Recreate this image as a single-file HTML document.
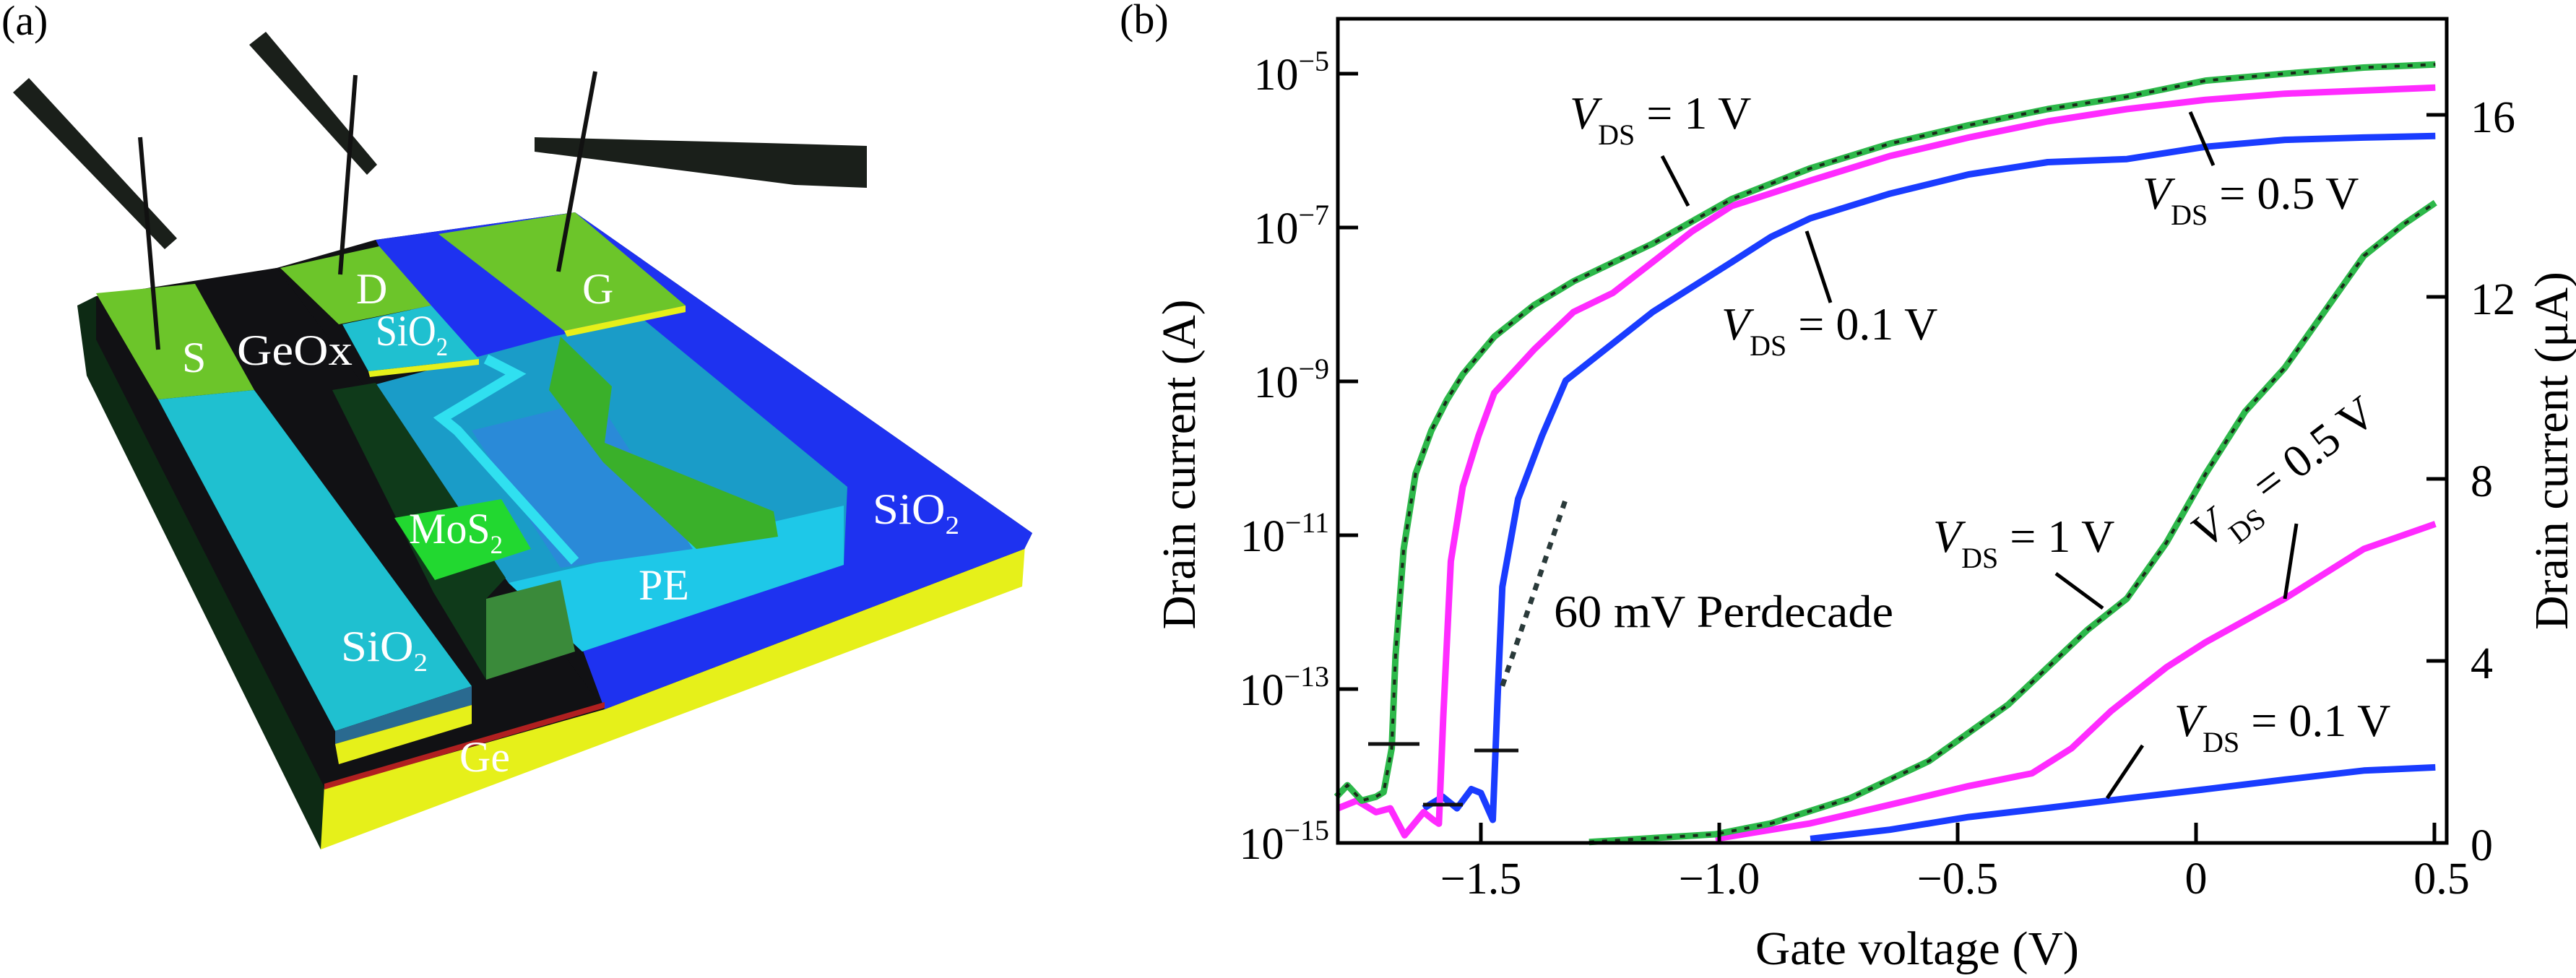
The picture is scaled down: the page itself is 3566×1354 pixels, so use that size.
<!DOCTYPE html>
<html><head><meta charset="utf-8"><style>
html,body{margin:0;padding:0;background:#fff;}
svg{display:block;font-family:"Liberation Serif",serif;}
</style></head><body>
<svg id="fig" width="3566" height="1354" viewBox="0 0 3566 1354" xmlns="http://www.w3.org/2000/svg">
<!-- Panel (a) device schematic -->
<g id="panelA">
  <text x="2" y="48" font-size="58">(a)</text>
  <polygon points="439,1070 1420,740 1415,812 444,1176" fill="#e6f01a"/>
  <polygon points="107,423 383,371 520,332 796,294 1429,738 1418,760 837,982 449,1092" fill="#111114"/>
  <polygon points="107,423 133,410 464,1070 449,1088 444,1176 120,520" fill="#0d2a14"/>
  <polygon points="520,332 796,294 1429,738 1418,760 837,982 806,898" fill="#1e32f0"/>
  <polygon points="133,410 383,371 832,976 449,1090 133,470" fill="#111114"/>
  <polygon points="449,1085 837,972 837,980 449,1093" fill="#b02020"/>
  <polygon points="133,406 270,393 352,540 219,553" fill="#6cc52a"/>
  <polygon points="219,553 352,540 653,950 464,1012" fill="#1fc0d0"/>
  <polygon points="464,1012 653,950 653,976 464,1030" fill="#2a6a90"/>
  <polygon points="464,1030 653,976 653,1002 469,1058" fill="#e6f01a"/>
  <polygon points="510,535 765,466 888,440 1173,674 1168,782 806,902 704,807" fill="#1a9cc8"/>
  <polygon points="704,807 1168,700 1168,782 806,902" fill="#1ec8e8"/>
  <polygon points="653,596 827,553 959,760 776,786" fill="#2a8ad8"/>
  <polygon points="776,466 847,535 837,613 1071,708 1077,743 964,760 835,640 760,540" fill="#3ab02a"/>
  <polygon points="460,540 520,530 700,800 673,829 673,941 600,820" fill="#0f3a1a"/>
  <polygon points="673,829 776,803 796,902 673,941" fill="#3a8a3a"/>
  <polygon points="388,371 525,341 597,423 469,449" fill="#6cc52a"/>
  <polygon points="474,449 597,423 663,497 510,514" fill="#1fc0d0"/>
  <polygon points="510,514 663,497 663,505 512,522" fill="#e6f01a"/>
  <polygon points="607,324 796,294 949,423 781,458" fill="#6cc52a"/>
  <polygon points="781,458 949,423 949,432 785,466" fill="#e6f01a"/>
  <polyline points="673,497 714,518 612,579 633,596 796,777" fill="none" stroke="#30e0f0" stroke-width="14"/>
  <polygon points="546,717 694,691 735,760 602,803" fill="#22d830"/>
  <polygon points="18,128 40,108 245,330 228,345" fill="#1a1f1a"/>
  <line x1="194" y1="190" x2="219" y2="484" stroke="#111" stroke-width="6"/>
  <polygon points="345,62 368,44 522,228 508,242" fill="#1a1f1a"/>
  <line x1="492" y1="104" x2="471" y2="380" stroke="#111" stroke-width="6"/>
  <polygon points="740,190 1060,198 1200,202 1200,260 1100,256 740,210" fill="#1a1f1a"/>
  <line x1="824" y1="99" x2="773" y2="376" stroke="#111" stroke-width="6"/>
  <g fill="#fff" font-size="60">
    <text x="252" y="515">S</text>
    <text x="328" y="505" textLength="160" lengthAdjust="spacingAndGlyphs">GeOx</text>
    <text x="493" y="420">D</text>
    <text x="520" y="478" textLength="100" lengthAdjust="spacingAndGlyphs">SiO<tspan font-size="36" dy="14">2</tspan></text>
    <text x="806" y="420">G</text>
    <text x="566" y="752" textLength="130" lengthAdjust="spacingAndGlyphs">MoS<tspan font-size="36" dy="14">2</tspan></text>
    <text x="884" y="830">PE</text>
    <text x="1208" y="725" textLength="120" lengthAdjust="spacingAndGlyphs">SiO<tspan font-size="36" dy="14">2</tspan></text>
    <text x="472" y="915" textLength="120" lengthAdjust="spacingAndGlyphs">SiO<tspan font-size="36" dy="14">2</tspan></text>
    <text x="636" y="1068">Ge</text>
  </g>
</g>
<!-- Panel (b) -->
<g id="panelB">
  <text x="1550" y="46" font-size="58">(b)</text>
  <g id="curves"></g>
  <g id="axes"></g>
  <g id="annot"></g>
</g>
</svg>
<script>
const NS="http://www.w3.org/2000/svg";
const xTicks=[-1.5,-1.0,-0.5,0,0.5];
const xTickLabels=["\u22121.5","\u22121.0","\u22120.5","0","0.5"];
const logTicks=[-5,-7,-9,-11,-13,-15];
const linTicks=[0,4,8,12,16];
const logV1V=[-1.803,-1.78,-1.75,-1.72,-1.704,-1.687,-1.679,-1.662,-1.637,-1.604,-1.571,-1.538,-1.472,-1.389,-1.306,-1.140,-0.974,-0.809,-0.642,-0.477,-0.311,-0.145,0.020,0.186,0.352,0.502];
const logI1V=[-14.40,-14.25,-14.45,-14.40,-14.34,-13.77,-12.56,-11.18,-10.20,-9.64,-9.24,-8.91,-8.42,-8.01,-7.70,-7.21,-6.63,-6.23,-5.91,-5.67,-5.46,-5.30,-5.09,-5.00,-4.92,-4.88];
const logV05V=[-1.80,-1.76,-1.72,-1.69,-1.66,-1.62,-1.60,-1.588,-1.579,-1.563,-1.538,-1.505,-1.472,-1.389,-1.306,-1.223,-1.140,-1.057,-0.974,-0.809,-0.642,-0.477,-0.311,-0.145,0.020,0.186,0.352,0.502];
const logI05V=[-14.55,-14.45,-14.60,-14.55,-14.90,-14.60,-14.70,-14.75,-13.37,-11.34,-10.37,-9.71,-9.15,-8.59,-8.10,-7.85,-7.45,-7.05,-6.72,-6.39,-6.07,-5.83,-5.62,-5.46,-5.34,-5.26,-5.22,-5.18];
const logV01V=[-1.62,-1.58,-1.55,-1.52,-1.50,-1.475,-1.464,-1.455,-1.422,-1.372,-1.322,-1.273,-1.140,-0.974,-0.891,-0.809,-0.642,-0.477,-0.311,-0.145,0.020,0.186,0.352,0.502];
const logI01V=[-14.55,-14.40,-14.55,-14.30,-14.35,-14.70,-12.96,-11.67,-10.53,-9.71,-8.99,-8.75,-8.10,-7.45,-7.12,-6.88,-6.56,-6.31,-6.15,-6.11,-5.95,-5.86,-5.83,-5.81];
const linV1V=[-1.273,-1.008,-0.891,-0.726,-0.560,-0.394,-0.228,-0.145,-0.062,0.020,0.103,0.186,0.269,0.352,0.435,0.502];
const linI1V=[0.02,0.19,0.43,0.98,1.80,3.04,4.68,5.37,6.60,8.11,9.48,10.44,11.67,12.90,13.59,14.07];
const linV05V=[-1.008,-0.809,-0.642,-0.477,-0.344,-0.261,-0.178,-0.062,0.020,0.186,0.352,0.502];
const linI05V=[0.09,0.43,0.84,1.25,1.53,2.08,2.90,3.86,4.41,5.37,6.46,7.01];
const linV01V=[-0.809,-0.642,-0.477,-0.311,-0.145,0.020,0.186,0.352,0.502];
const linI01V=[0.09,0.29,0.57,0.77,0.98,1.18,1.39,1.59,1.66];
const slopeV=[-1.455,-1.322];
const slopeI=[-12.96,-10.53];
const L=1852,R=3387,T=26,B=1167;
const xs=v=>3040+v*660;
const yLog=e=>B-(e+15)*106.5;
const yLin=i=>B-i*63;
function el(tag,attrs,parent){const e=document.createElementNS(NS,tag);for(const k in attrs)e.setAttribute(k,attrs[k]);parent.appendChild(e);return e;}
const curves=document.getElementById('curves');
function path(vs,is,yf){return vs.map((v,k)=>(k?'L':'M')+xs(v).toFixed(1)+','+yf(is[k]).toFixed(1)).join(' ');}
function drawCurve(vs,is,yf,color,name,dotted){
  const p=el('path',{d:path(vs,is,yf),fill:'none',stroke:color,'stroke-width':9,'stroke-linejoin':'round'},curves);
  
  
  if(dotted){const q=el('path',{d:path(vs,is,yf),fill:'none',stroke:'#1a2a1a','stroke-width':4,'stroke-dasharray':'7 11'},curves);
    
    }
}
drawCurve(linV01V,linI01V,yLin,'#1a3cff','linear-curve-vds-0.1v');
drawCurve(linV05V,linI05V,yLin,'#ff2bff','linear-curve-vds-0.5v');
drawCurve(linV1V,linI1V,yLin,'#2db84a','linear-curve-vds-1v',true);
drawCurve(logV01V,logI01V,yLog,'#1a3cff','log-curve-vds-0.1v');
drawCurve(logV05V,logI05V,yLog,'#ff2bff','log-curve-vds-0.5v');
drawCurve(logV1V,logI1V,yLog,'#2db84a','log-curve-vds-1v',true);
const sl=el('path',{d:path(slopeV,slopeI,yLog),fill:'none',stroke:'#2a3a3a','stroke-width':7,'stroke-dasharray':'10 10'},curves);


[[1894,1965,1030],[1970,2025,1114],[2041,2102,1039]].forEach((m,k)=>{
  const l=el('line',{x1:m[0],x2:m[1],y1:m[2],y2:m[2],stroke:'#111','stroke-width':5},curves);
  
  
});
const axes=document.getElementById('axes');
const fr=el('rect',{x:L,y:T,width:R-L,height:B-T,fill:'none',stroke:'#000','stroke-width':5},axes);


xTicks.forEach((v,k)=>{
  const t=el('line',{x1:xs(v),x2:xs(v),y1:B,y2:B-28,stroke:'#000','stroke-width':5},axes);
  
  
  const tx=el('text',{x:xs(v)+(k==4?10:0),y:1237,'font-size':62,'text-anchor':'middle'},axes);
  tx.textContent=xTickLabels[k];
  
  
});
logTicks.forEach(e=>{
  const t=el('line',{x1:L,x2:L+28,y1:yLog(e),y2:yLog(e),stroke:'#000','stroke-width':5},axes);
  
  
  const tx=el('text',{x:1840,y:yLog(e)+22,'font-size':62,'text-anchor':'end'},axes);
  
  
  const a=document.createElementNS(NS,'tspan');a.textContent='10';tx.appendChild(a);
  const b=document.createElementNS(NS,'tspan');b.setAttribute('font-size','40');b.setAttribute('dy','-26');b.textContent='\u2212'+(-e);tx.appendChild(b);
});
linTicks.forEach(i=>{
  const t=el('line',{x1:R,x2:R-28,y1:yLin(i),y2:yLin(i),stroke:'#000','stroke-width':5},axes);
  
  
  const tx=el('text',{x:3420,y:yLin(i)+24,'font-size':62},axes);
  tx.textContent=String(i);
  
  
});
const xt=el('text',{x:2654,y:1335,'font-size':66,'text-anchor':'middle',textLength:448,lengthAdjust:'spacingAndGlyphs'},axes);
xt.textContent='Gate voltage (V)';


const yt=el('text',{x:0,y:0,'font-size':66,'text-anchor':'middle',textLength:457,lengthAdjust:'spacingAndGlyphs',transform:'translate(1654,643) rotate(-90)'},axes);
yt.textContent='Drain current (A)';


const yr=el('text',{x:0,y:0,'font-size':66,'text-anchor':'middle',textLength:496,lengthAdjust:'spacingAndGlyphs',transform:'translate(3554,624) rotate(-90)'},axes);
yr.textContent='Drain current (\u03bcA)';


const annot=document.getElementById('annot');
function vds(x,y,val,name,rot){
  const g=el('g',{transform:'translate('+x+','+y+')'+(rot?' rotate('+rot+')':'')},annot);
  
  
  const t=el('text',{x:0,y:0,'font-size':64},g);
  const a=document.createElementNS(NS,'tspan');a.setAttribute('font-style','italic');a.textContent='V';t.appendChild(a);
  const b=document.createElementNS(NS,'tspan');b.setAttribute('font-size','40');b.setAttribute('dy','22');b.textContent='DS';t.appendChild(b);
  const c=document.createElementNS(NS,'tspan');c.setAttribute('dy','-22');c.textContent=' = '+val+' V';t.appendChild(c);
}
vds(2173,178,'1','label-vds-1v-log');
vds(2383,470,'0.1','label-vds-0.1v-log');
vds(2966,289,'0.5','label-vds-0.5v-log');
vds(2676,764,'1','label-vds-1v-linear');
vds(3010,1019,'0.1','label-vds-0.1v-linear');
vds(3054,760,'0.5','label-vds-0.5v-linear',-37);
const pd=el('text',{x:2151,y:868,'font-size':64,textLength:470,lengthAdjust:'spacingAndGlyphs'},annot);
pd.textContent='60 mV Perdecade';


[[2301,216,2337,285],[2501,320,2534,419],[3032,155,3064,229],[2846,794,2911,842],[3179,725,3163,829],[2966,1032,2917,1105]].forEach(s=>{
  const l=el('line',{x1:s[0],y1:s[1],x2:s[2],y2:s[3],stroke:'#000','stroke-width':5},annot);
  
  
});
</script>
</body></html>
